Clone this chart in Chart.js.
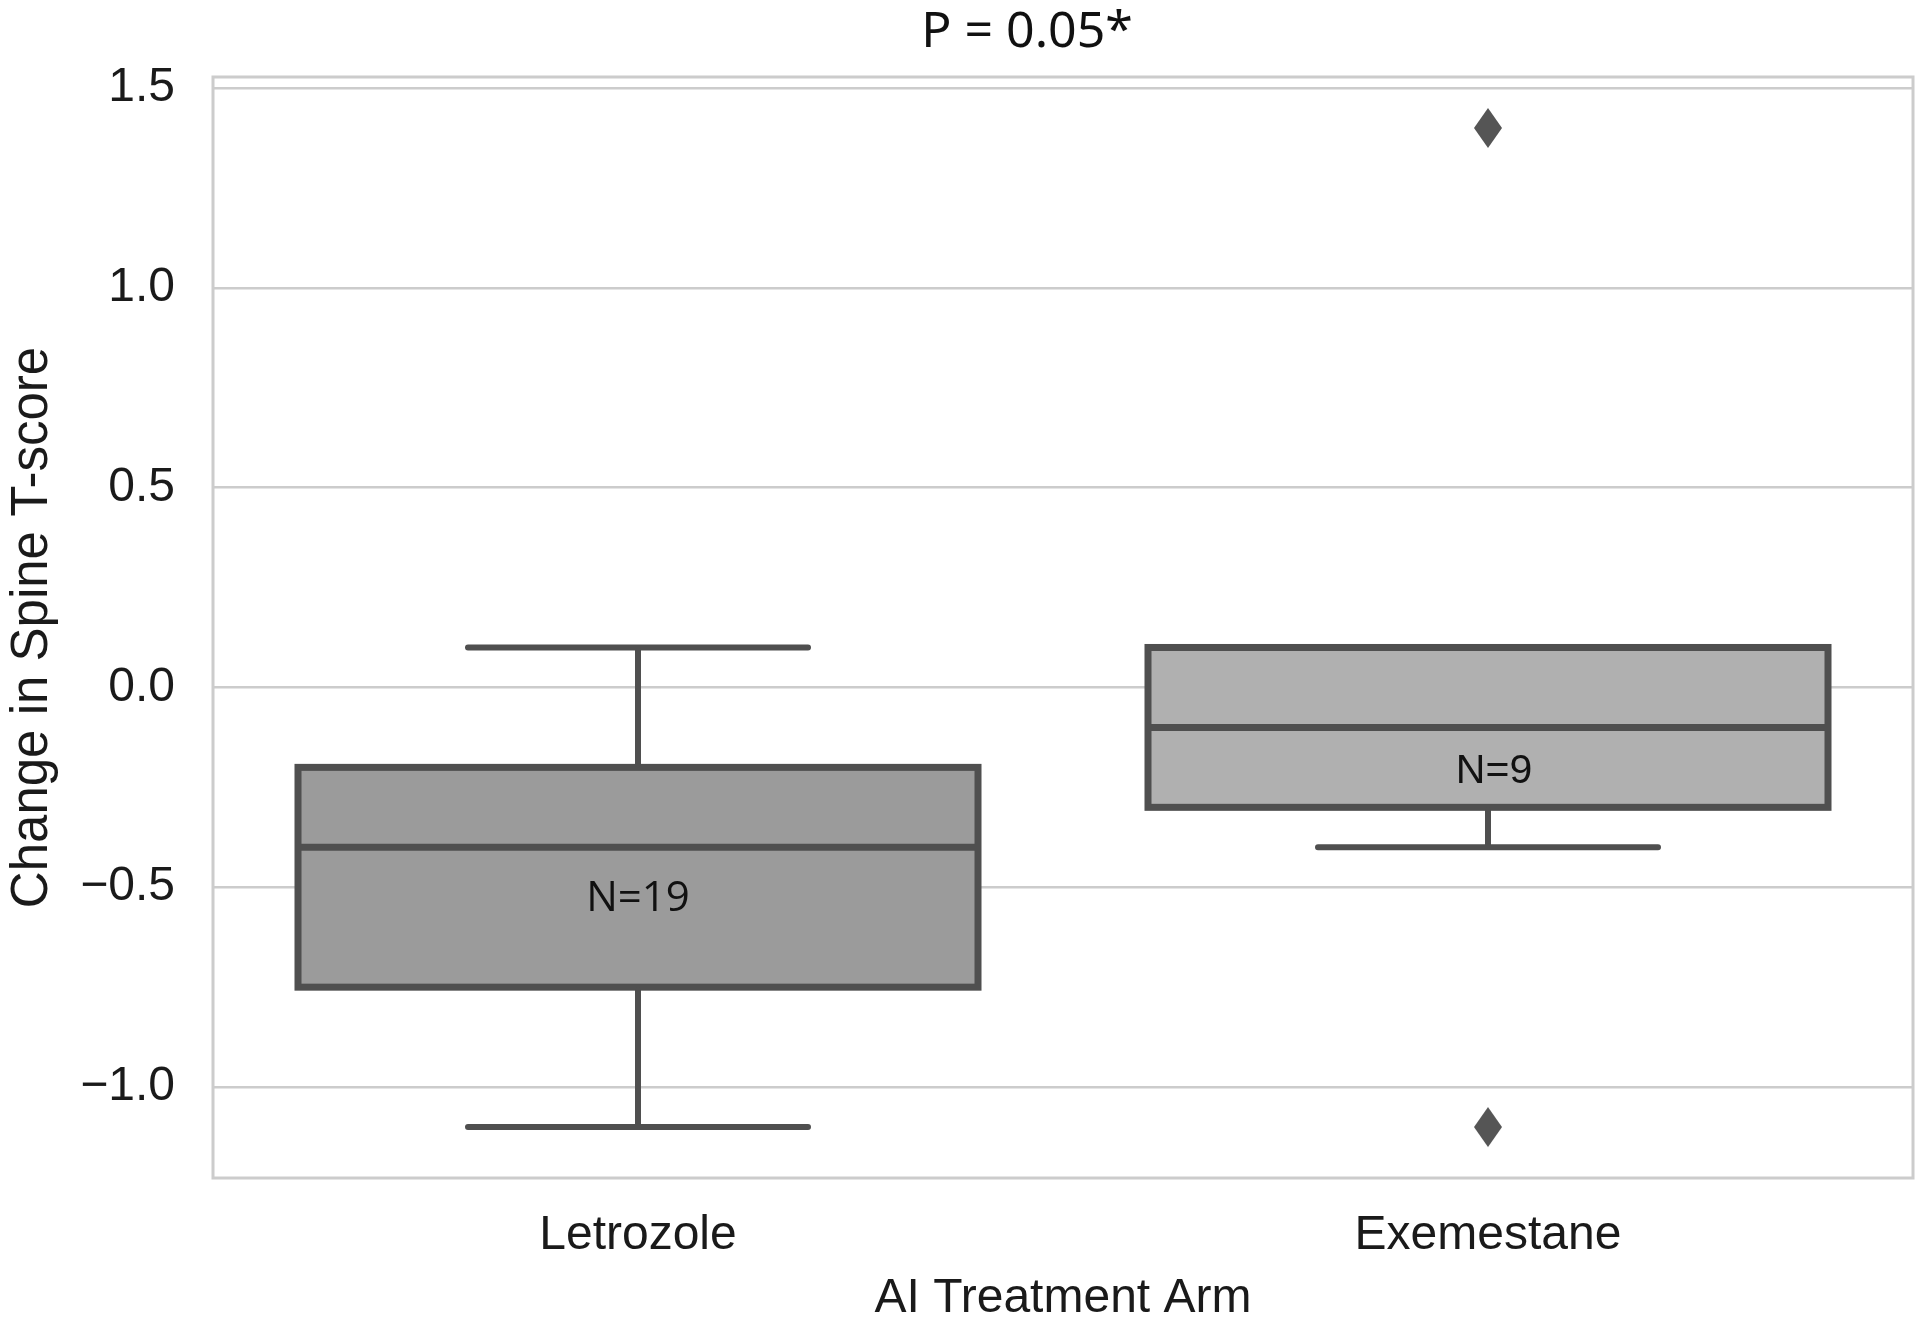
<!DOCTYPE html>
<html>
<head>
<meta charset="utf-8">
<script src="https://cdn.jsdelivr.net/npm/chart.js@4.4.1/dist/chart.umd.min.js"></script>
<style>
  html, body { margin: 0; background: #fff; overflow: hidden; }
  #wrap { width: 1920px; height: 1328px; }
  canvas { display: block; }
</style>
</head>
<body>
<div id="wrap"><canvas id="boxChart" width="1920" height="1328"></canvas></div>
<script>
// box plot values
var arms = ['Letrozole', 'Exemestane'];
var whiskerLow = [-1.1, -0.4];
var q1 = [-0.75, -0.3];
var median = [-0.4, -0.1];
var q3 = [-0.2, 0.1];
var whiskerHigh = [0.1, 0.1];
var outlierArm = ['Exemestane', 'Exemestane'];
var outlierVal = [1.4, -1.1];
var nLabels = ['N=19', 'N=9'];
var nLabelY = [-0.53, -0.21];
var yTicks = [-1.0, -0.5, 0.0, 0.5, 1.0, 1.5];
var titleText = 'P = 0.05*';

var boxFill = ['#9b9b9b', '#b0b0b0'];
var edge = '#4f4f4f';

// diamond marker like seaborn's 'd'
var diamond = document.createElement('canvas');
diamond.width = 30;
diamond.height = 42;
var dc = diamond.getContext('2d');
dc.fillStyle = '#555555';
dc.beginPath();
dc.moveTo(15, 1);
dc.lineTo(29, 21);
dc.lineTo(15, 41);
dc.lineTo(1, 21);
dc.closePath();
dc.fill();

var boxes = [];
for (var i = 0; i < arms.length; i++) {
  boxes.push([q1[i], q3[i]]);
}
var outliers = [];
for (var k = 0; k < outlierVal.length; k++) {
  outliers.push({ x: outlierArm[k], y: outlierVal[k] });
}

var boxPlugin = {
  id: 'boxExtras',
  beforeDatasetsDraw: function (chart) {
    var ctx = chart.ctx, a = chart.chartArea;
    ctx.save();
    ctx.strokeStyle = '#cccccc';
    ctx.lineWidth = 3;
    ctx.strokeRect(a.left, a.top, a.right - a.left, a.bottom - a.top);
    // the p-value annotation sits a little left of the plot centre
    ctx.fillStyle = '#111111';
    ctx.textAlign = 'center';
    ctx.textBaseline = 'middle';
    ctx.font = '50px "Noto Sans", "Open Sans", sans-serif';
    ctx.fillText(titleText, (a.left + a.right) / 2 - 36, 33);
    ctx.restore();
  },
  afterDatasetsDraw: function (chart) {
    var ctx = chart.ctx;
    var y = chart.scales.y;
    var bars = chart.getDatasetMeta(0).data;
    ctx.save();
    ctx.strokeStyle = edge;
    for (var i = 0; i < bars.length; i++) {
      var b = bars[i];
      var half = b.width / 2;
      var cap = b.width / 4;
      var yTop = y.getPixelForValue(q3[i]);
      var yBot = y.getPixelForValue(q1[i]);
      // box outline centred on the quartile edges (seaborn style)
      ctx.lineWidth = 7;
      ctx.lineJoin = 'miter';
      ctx.strokeRect(b.x - half, yTop, b.width, yBot - yTop);
      ctx.lineWidth = 6;
      ctx.lineCap = 'round';
      ctx.beginPath();
      // lower whisker + cap
      if (whiskerLow[i] < q1[i]) {
        ctx.moveTo(b.x, yBot + 3);
        ctx.lineTo(b.x, y.getPixelForValue(whiskerLow[i]));
        ctx.moveTo(b.x - cap, y.getPixelForValue(whiskerLow[i]));
        ctx.lineTo(b.x + cap, y.getPixelForValue(whiskerLow[i]));
      }
      // upper whisker + cap
      if (whiskerHigh[i] > q3[i]) {
        ctx.moveTo(b.x, yTop - 3);
        ctx.lineTo(b.x, y.getPixelForValue(whiskerHigh[i]));
        ctx.moveTo(b.x - cap, y.getPixelForValue(whiskerHigh[i]));
        ctx.lineTo(b.x + cap, y.getPixelForValue(whiskerHigh[i]));
      }
      ctx.stroke();
      // median
      ctx.lineWidth = 7;
      ctx.lineCap = 'butt';
      ctx.beginPath();
      ctx.moveTo(b.x - half, y.getPixelForValue(median[i]));
      ctx.lineTo(b.x + half, y.getPixelForValue(median[i]));
      ctx.stroke();
      // N label
      ctx.fillStyle = '#111111';
      ctx.textAlign = 'center';
      ctx.textBaseline = 'middle';
      ctx.font = i === 0 ? '42px "Open Sans", "Noto Sans", sans-serif' : '41px "Liberation Sans", Arial, sans-serif';
      ctx.fillText(nLabels[i], b.x + (i === 0 ? 0 : 6), y.getPixelForValue(nLabelY[i]));
    }
    ctx.restore();
  }
};

var ctx = document.getElementById('boxChart').getContext('2d');
var chart = new Chart(ctx, {
  type: 'bar',
  data: {
    labels: arms,
    datasets: [{
      type: 'bar',
      data: boxes,
      backgroundColor: boxFill,
      borderWidth: 0,
      barPercentage: 0.8,
      categoryPercentage: 1.0,
      order: 2
    }, {
      type: 'scatter',
      data: outliers,
      pointStyle: diamond,
      pointRadius: 15,
      order: 1
    }]
  },
  options: {
    responsive: false,
    animation: false,
    layout: { autoPadding: false, padding: { left: 0, right: 7, top: 77, bottom: 0 } },
    plugins: {
      legend: { display: false },
      tooltip: { enabled: false },
      title: { display: false }
    },
    scales: {
      x: {
        grid: { display: false },
        border: { display: false },
        ticks: {
          color: '#1a1a1a',
          padding: 21,
          font: { family: '"Liberation Sans", Arial, sans-serif', size: 48 }
        },
        title: {
          display: true,
          text: 'AI Treatment Arm',
          color: '#1a1a1a',
          font: { family: '"Liberation Sans", Arial, sans-serif', size: 48 },
          padding: { top: 0, bottom: 0 }
        },
        afterFit: function (s) {
          s.height = 150;
          s.paddingLeft = 0;
          s.paddingRight = 0;
        }
      },
      y: {
        min: -1.2275,
        max: 1.5275,
        afterBuildTicks: function (s) {
          s.ticks = yTicks.map(function (v) { return { value: v }; });
        },
        grid: { color: '#cccccc', lineWidth: 2.5, drawTicks: false },
        border: { display: false },
        ticks: {
          color: '#1a1a1a',
          padding: 38,
          font: { family: '"Liberation Sans", Arial, sans-serif', size: 48 },
          callback: function (v) { return v.toFixed(1).replace('-', '\u2212'); }
        },
        title: {
          display: true,
          text: 'Change in Spine T-score',
          color: '#1a1a1a',
          font: { family: '"Liberation Sans", Arial, sans-serif', size: 51 },
          padding: { top: 2, bottom: 0 }
        },
        afterFit: function (s) { s.width = 213; }
      }
    }
  },
  plugins: [boxPlugin]
});
</script>
</body>
</html>
